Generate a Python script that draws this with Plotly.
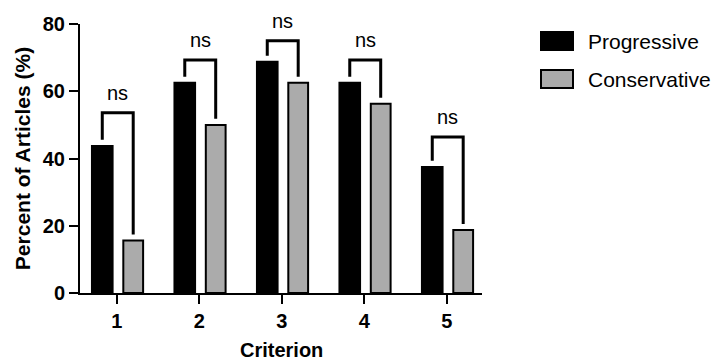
import plotly.graph_objects as go

criteria = [1, 2, 3, 4, 5]
tick_labels = ["1", "2", "3", "4", "5"]
progressive = [43.75, 62.5, 68.75, 62.5, 37.5]
conservative = [15.63, 50.0, 62.5, 56.25, 18.75]
bracket_top = [53.6, 69.3, 75.0, 69.3, 46.4]
sig_labels = ["ns", "ns", "ns", "ns", "ns"]

FONT = "Arial, Liberation Sans, Helvetica, sans-serif"
GRAY = "#ababab"

P_OFF, P_W = -0.30, 0.25
C_OFF, C_W = 0.08, 0.24
LEG_GAP = 1.8

fig = go.Figure()
fig.add_trace(go.Bar(
    x=criteria, y=progressive, name="Progressive",
    offset=P_OFF, width=P_W,
    marker=dict(color="black", line=dict(color="black", width=2)),
    showlegend=False,
))
fig.add_trace(go.Bar(
    x=criteria, y=conservative, name="Conservative",
    offset=C_OFF, width=C_W,
    marker=dict(color=GRAY, line=dict(color="black", width=2)),
    showlegend=False,
))

shapes = []
annotations = []
for c, p, v, top, lab in zip(criteria, progressive, conservative, bracket_top, sig_labels):
    xl = c + P_OFF + P_W / 2
    xr = c + C_OFF + C_W / 2
    path = f"M {xl} {p + LEG_GAP} L {xl} {top} L {xr} {top} L {xr} {v + LEG_GAP}"
    shapes.append(dict(type="path", path=path, xref="x", yref="y",
                       line=dict(color="black", width=3)))
    annotations.append(dict(x=(xl + xr) / 2, y=top, xref="x", yref="y",
                            text=lab, showarrow=False, yanchor="bottom",
                            yshift=7, font=dict(family=FONT, size=20, color="black")))

PW, PH = 402, 268.7  # plot area size in px
# manual legend
legend_items = [("Progressive", "black"), ("Conservative", GRAY)]
for i, (name, col) in enumerate(legend_items):
    y0 = 32 + i * 38
    shapes.append(dict(type="rect", xref="paper", yref="paper",
                       x0=(541 - 80) / PW, x1=(573 - 80) / PW,
                       y0=1 - (y0 + 18 - 24) / PH, y1=1 - (y0 - 24) / PH,
                       fillcolor=col, line=dict(color="black", width=2)))
    annotations.append(dict(xref="paper", yref="paper",
                            x=(586 - 80) / PW, y=1 - (y0 + 9 - 24) / PH,
                            xanchor="left", yanchor="middle", showarrow=False,
                            text=name, font=dict(family=FONT, size=21, color="black")))

# x-axis title
annotations.append(dict(xref="paper", yref="paper", x=0.5, y=-(350 - 292.7) / PH,
                        xanchor="center", yanchor="middle", showarrow=False,
                        text="Criterion",
                        font=dict(family=FONT, size=20, color="black", weight="bold")))

fig.update_layout(
    width=715, height=363,
    margin=dict(l=80, r=233, t=24, b=70, autoexpand=False),
    plot_bgcolor="white", paper_bgcolor="white",
    font=dict(family=FONT, color="black"),
    shapes=shapes, annotations=annotations,
    showlegend=False,
)
fig.update_xaxes(
    range=[0.555, 5.428], tickmode="array", tickvals=criteria, ticktext=tick_labels,
    showline=True, linecolor="black", linewidth=2, ticks="outside", ticklen=9,
    tickwidth=2, tickcolor="black", showgrid=False, zeroline=False, automargin=False,
    tickfont=dict(family=FONT, size=20, weight="bold"),
)
fig.update_yaxes(
    range=[0, 80], tickvals=[0, 20, 40, 60, 80],
    showline=True, linecolor="black", linewidth=2, ticks="outside", ticklen=9,
    tickwidth=2, tickcolor="black", showgrid=False, zeroline=False, automargin=False,
    tickfont=dict(family=FONT, size=20, weight="bold"),
    title=dict(text="Percent of Articles (%)", font=dict(family=FONT, size=21, weight="bold"), standoff=6),
)

fig.write_html("out.html", config={"displayModeBar": False},
               post_script="document.body.style.margin='0';document.body.style.overflow='hidden';")
